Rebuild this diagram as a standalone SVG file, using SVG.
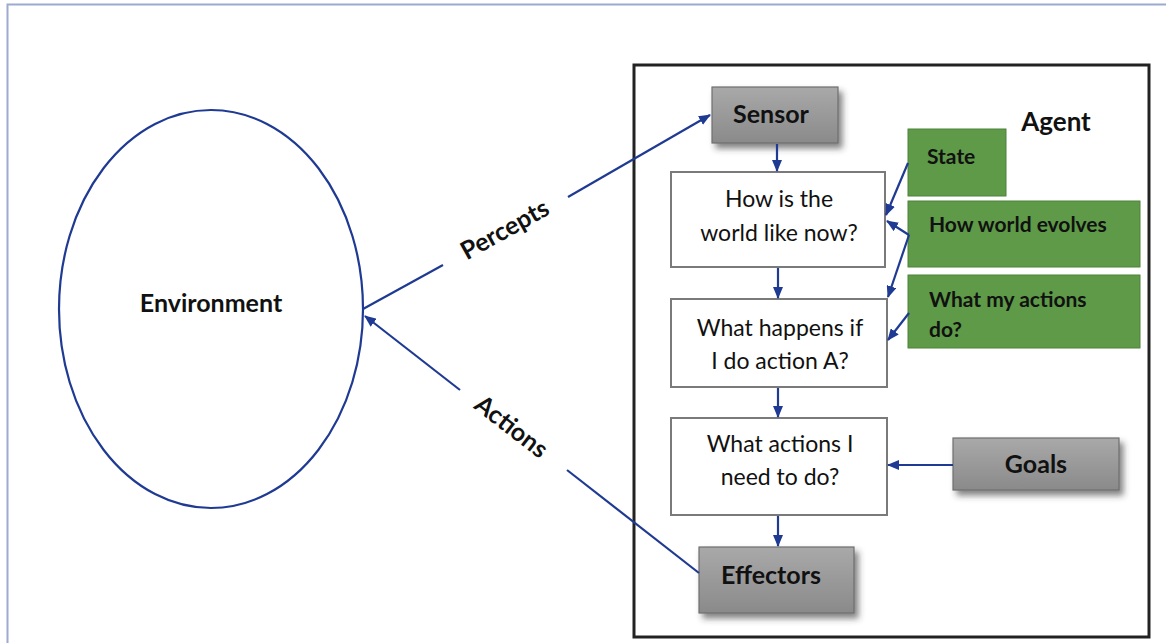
<svg xmlns="http://www.w3.org/2000/svg" width="1166" height="643" viewBox="0 0 1166 643">
<defs>
<style>
.lbl{font-family:Lato,"Open Sans","Liberation Sans",sans-serif;fill:#111}
.b{font-weight:bold}
.q{font-size:23px;text-anchor:middle}
.g{font-size:25px;font-weight:bold;text-anchor:middle}
.gt{font-size:21px;font-weight:bold}
.wbox{fill:#fff;stroke:#7a7a7a;stroke-width:2}
.gray{fill:url(#grayGrad);stroke:#6f6f6f;stroke-width:1.2;filter:url(#sh)}
.green{fill:#5e9a48;stroke:#4c8238;stroke-width:1}
.conn{stroke:#1f3a93;stroke-width:2.2;fill:none}
</style>
<linearGradient id="grayGrad" x1="0" y1="0" x2="0" y2="1">
<stop offset="0" stop-color="#a9a9a9"/>
<stop offset="1" stop-color="#8a8a8a"/>
</linearGradient>
<filter id="sh" x="-20%" y="-20%" width="150%" height="160%">
<feDropShadow dx="4" dy="5" stdDeviation="3" flood-color="#333" flood-opacity="0.6"/>
</filter>
<marker id="ah" viewBox="0 0 12 10" refX="11" refY="5" markerWidth="12" markerHeight="10" markerUnits="userSpaceOnUse" orient="auto">
<path d="M0,0 L12,5 L0,10 Z" fill="#1f3a93"/>
</marker>
</defs>
<rect width="1166" height="643" fill="#fff"/>
<path d="M7.5,643 V4.5 H1166" fill="none" stroke="#9eaad0" stroke-width="2"/>

<g id="agent-frame">
<rect x="634" y="65" width="515" height="572" fill="none" stroke="#222" stroke-width="3"/>
<text class="lbl b" x="1056" y="131" font-size="26" text-anchor="middle">Agent</text>
</g>

<g id="environment">
<ellipse cx="211" cy="309" rx="152" ry="199" fill="#fff" stroke="#1f3a93" stroke-width="2.2"/>
<text class="lbl g" x="211" y="312" font-size="28">Environment</text>
</g>

<g id="sensor">
<rect class="gray" x="712" y="87" width="126" height="56"/>
<text class="lbl g" x="771" y="123">Sensor</text>
</g>

<g id="world-now">
<rect class="wbox" x="671" y="172" width="214" height="95"/>
<text class="lbl q" x="779" y="207">How is the</text>
<text class="lbl q" x="779" y="241">world like now?</text>
</g>

<g id="what-happens">
<rect class="wbox" x="671" y="299" width="216" height="88"/>
<text class="lbl q" x="780" y="336">What happens if</text>
<text class="lbl q" x="780" y="369">I do action A?</text>
</g>

<g id="what-actions">
<rect class="wbox" x="671" y="418" width="216" height="97"/>
<text class="lbl q" x="780" y="452">What actions I</text>
<text class="lbl q" x="780" y="485">need to do?</text>
</g>

<g id="effectors">
<rect class="gray" x="699" y="547" width="155" height="66"/>
<text class="lbl g" x="771" y="584" font-size="26">Effectors</text>
</g>

<g id="goals">
<rect class="gray" x="953" y="438" width="166" height="52"/>
<text class="lbl g" x="1036" y="473">Goals</text>
</g>

<g id="state">
<rect class="green" x="908" y="129" width="98" height="67"/>
<text class="lbl gt" x="927" y="164" font-size="24">State</text>
</g>

<g id="world-evolves">
<rect class="green" x="908" y="201" width="232" height="66"/>
<text class="lbl gt" x="929" y="232">How world evolves</text>
</g>

<g id="my-actions">
<rect class="green" x="908" y="275" width="232" height="73"/>
<text class="lbl gt" x="929" y="307">What my actions</text>
<text class="lbl gt" x="929" y="337">do?</text>
</g>

<g id="connectors">
<line class="conn" x1="363" y1="309" x2="443" y2="265"/>
<line class="conn" x1="568" y1="197" x2="710" y2="115" marker-end="url(#ah)"/>
<text class="lbl b" font-size="25" text-anchor="middle" transform="translate(505,230) rotate(-29.2)" y="8">Percepts</text>
<line class="conn" x1="699" y1="573" x2="567" y2="470"/>
<line class="conn" x1="460" y1="390" x2="365" y2="316" marker-end="url(#ah)"/>
<text class="lbl b" font-size="25" text-anchor="middle" transform="translate(511,427) rotate(37.7)" y="8">Actions</text>
<line class="conn" x1="777" y1="144" x2="777" y2="171" marker-end="url(#ah)"/>
<line class="conn" x1="778" y1="268" x2="778" y2="298" marker-end="url(#ah)"/>
<line class="conn" x1="778" y1="388" x2="778" y2="417" marker-end="url(#ah)"/>
<line class="conn" x1="778" y1="516" x2="778" y2="546" marker-end="url(#ah)"/>
<line class="conn" x1="953" y1="465" x2="888" y2="465" marker-end="url(#ah)"/>
<line class="conn" x1="908" y1="163" x2="886" y2="215" marker-end="url(#ah)"/>
<line class="conn" x1="909" y1="235" x2="887" y2="221" marker-end="url(#ah)"/>
<line class="conn" x1="909" y1="235" x2="888" y2="297" marker-end="url(#ah)"/>
<line class="conn" x1="909" y1="313" x2="888" y2="340" marker-end="url(#ah)"/>
</g>
</svg>
